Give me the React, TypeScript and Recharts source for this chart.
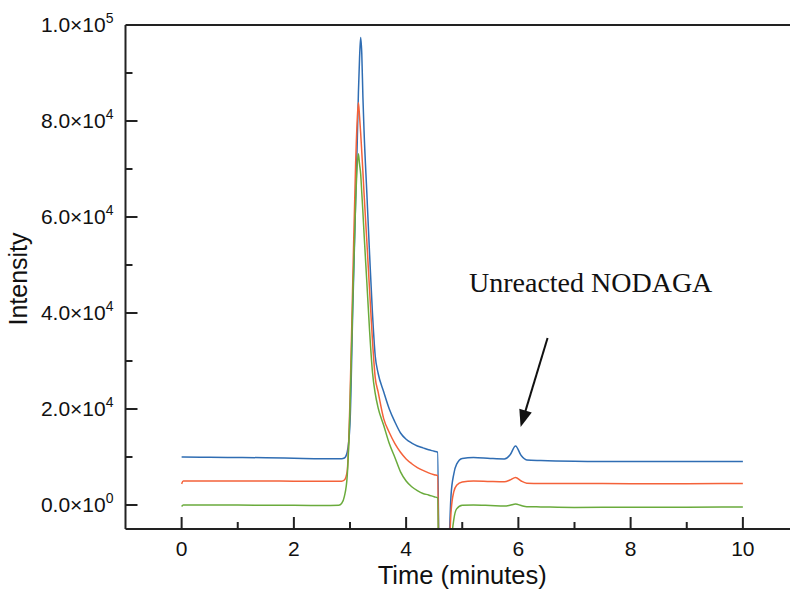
import React from "react";
import { LineChart, Line, XAxis, YAxis, ReferenceLine, ReferenceDot } from "recharts";

// time (minutes)
const time = [
  0, 0.03, 0.5, 1, 1.5, 2, 2.5,
  2.8, 2.85, 2.9, 2.95,
  3.0, 3.05, 3.1, 3.13, 3.15, 3.17, 3.19, 3.21, 3.23, 3.25,
  3.3, 3.35, 3.4, 3.45, 3.5,
  3.6, 3.7, 3.8, 3.9, 4.0,
  4.1, 4.2, 4.3, 4.4, 4.5, 4.56,
  4.6, 4.65, 4.7, 4.75, 4.8, 4.85, 4.9, 5.0,
  5.2, 5.5, 5.75, 5.85, 5.95, 6.05, 6.15, 6.4,
  7, 8, 9, 10,
];

const blueSeries = [
  10000, 10000, 9950, 9900, 9850, 9750, 9650,
  9650, 9650, 9800, 11000,
  17000, 41000, 63000, 76000, 86000, 93000, 97400, 94000, 85000, 78000,
  65000, 52000, 40000, 31000, 27500,
  23600, 20000, 17300, 15000, 13700,
  12900, 12300, 11900, 11500, 11200, 11000,
  -30000, -50000, -40000, -15000, 2000, 6500, 8500, 9700,
  9900, 9700, 9600, 10400, 12300, 10300, 9400, 9250,
  9100, 9050, 9050, 9050,
];

const orangeSeries = [
  4400, 5000, 5000, 5000, 4980, 4970, 4950,
  4950, 4950, 5200, 7000,
  22000, 47000, 71000, 80500, 83800, 81000, 77500, 73500, 69400, 65000,
  54900, 44500, 34300, 26500, 23600,
  18000, 15100, 12800, 11000, 9600,
  8600, 7800, 7200, 6700, 6300, 6100,
  -30000, -50000, -40000, -17000, -1500, 2800, 4100, 4800,
  5000, 4900, 4850, 5200, 5750, 5000, 4550, 4500,
  4500, 4450, 4450, 4500,
];

const greenSeries = [
  -300, 0, 0, 0, -50, -50, -100,
  -50, 300, 1800, 6000,
  20000, 43000, 63000, 71000, 73200, 71000, 69000, 65000, 61000, 56600,
  46400, 36100, 27700, 23200, 20300,
  16600, 12800, 9900, 6900, 5000,
  3800, 3000, 2400, 2100, 1700, 1500,
  -35000, -50000, -45000, -25000, -9000, -3000, -800, -50,
  0, -100, -200, -50, 200, -100, -350, -400,
  -500, -450, -450, -400,
];

const xTicks = [0, 1, 2, 3, 4, 5, 6, 7, 8, 9, 10];
const yTicks = [0, 10000, 20000, 30000, 40000, 50000, 60000, 70000, 80000, 90000, 100000];
const yTickMantissa: Record<number, string> = {
  0: "0.0", 20000: "2.0", 40000: "4.0", 60000: "6.0", 80000: "8.0", 100000: "1.0",
};
const yTickExponent: Record<number, string> = {
  0: "0", 20000: "4", 40000: "4", 60000: "4", 80000: "4", 100000: "5",
};

const annotationText = "Unreacted NODAGA";
const annotationPos = { t: 5.12, v: 44400 };
const arrowStart = { t: 6.52, v: 34800 };
const arrowEnd = { t: 6.04, v: 16250 };

const data = time.map((t, i) => ({
  t,
  blue: blueSeries[i],
  orange: orangeSeries[i],
  green: greenSeries[i],
}));

const AXIS = "#222";
const SANS = "'Liberation Sans', Arial, Helvetica, sans-serif";

const XTick = (props: any) => {
  const { x, y, payload } = props;
  const v = payload.value;
  const major = v % 2 === 0;
  return (
    <g>
      <line x1={x} y1={y} x2={x} y2={y - (major ? 12 : 7)} stroke={AXIS} strokeWidth={2} />
      {major && (
        <text x={x} y={y + 27} textAnchor="middle" fontFamily={SANS} fontSize={21} fill="#111">
          {v}
        </text>
      )}
    </g>
  );
};

const YTick = (props: any) => {
  const { x, y, payload } = props;
  const v = payload.value;
  const major = v % 20000 === 0;
  return (
    <g>
      {v !== 100000 && (
        <line x1={x} y1={y} x2={x + (major ? 12 : 7)} y2={y} stroke={AXIS} strokeWidth={2} />
      )}
      {major && (
        <text x={x - 12} y={y + 7} textAnchor="end" fontFamily={SANS} fontSize={21} fill="#111">
          {yTickMantissa[v]}×10
          <tspan dy={-9} fontSize={14}>{yTickExponent[v]}</tspan>
        </text>
      )}
    </g>
  );
};

const ArrowShape = (props: any) => {
  const { x1, y1, x2, y2 } = props;
  const dx = x2 - x1;
  const dy = y2 - y1;
  const len = Math.sqrt(dx * dx + dy * dy) || 1;
  const ux = dx / len;
  const uy = dy / len;
  const headLen = 17;
  const halfW = 6.5;
  const bx = x2 - ux * headLen;
  const by = y2 - uy * headLen;
  const px = -uy;
  const py = ux;
  return (
    <g>
      <line x1={x1} y1={y1} x2={bx + ux * 2} y2={by + uy * 2} stroke="#111" strokeWidth={2} />
      <polygon
        points={`${x2},${y2} ${bx + px * halfW},${by + py * halfW} ${bx - px * halfW},${by - py * halfW}`}
        fill="#111"
      />
    </g>
  );
};

const LabelShape = (props: any) => {
  const { cx, cy } = props;
  return (
    <text x={cx} y={cy} textAnchor="start" fontFamily="'Liberation Serif', 'Times New Roman', serif" fontSize={28} fill="#111">
      {annotationText}
    </text>
  );
};

export default function App() {
  return (
    <div style={{ position: "absolute", left: 0, top: 0, width: 790, height: 594, overflow: "hidden", background: "#fff" }}>
      <LineChart
        width={800}
        height={594}
        data={data}
        margin={{ top: 25, right: 1, bottom: 5, left: 25.5 }}
      >
        <XAxis
          dataKey="t"
          type="number"
          domain={[-1, 11]}
          ticks={xTicks}
          interval={0}
          allowDataOverflow
          tickSize={0}
          tickMargin={0}
          tickLine={false}
          axisLine={{ stroke: AXIS, strokeWidth: 2 }}
          tick={<XTick />}
          height={60}
          label={{ value: "Time (minutes)", position: "insideBottom", offset: 0, dy: -5, style: { fontFamily: SANS, fontSize: 25.5, fill: "#111" } } as any}
        />
        <YAxis
          type="number"
          domain={[-5000, 100000]}
          ticks={yTicks}
          interval={0}
          allowDataOverflow
          tickSize={0}
          tickMargin={0}
          tickLine={false}
          axisLine={{ stroke: AXIS, strokeWidth: 2 }}
          tick={<YTick />}
          width={100}
          label={{ value: "Intensity", angle: -90, position: "insideLeft", offset: 0, dx: -7, dy: 2, style: { fontFamily: SANS, fontSize: 25, fill: "#111", textAnchor: "middle" } } as any}
        />
        <ReferenceLine y={100000} stroke={AXIS} strokeWidth={2} ifOverflow="visible" />
        <Line type="monotone" dataKey="blue" stroke="#2f6db3" strokeWidth={1.5} dot={false} isAnimationActive={false} />
        <Line type="monotone" dataKey="orange" stroke="#f4623a" strokeWidth={1.5} dot={false} isAnimationActive={false} />
        <Line type="monotone" dataKey="green" stroke="#6aab3c" strokeWidth={1.5} dot={false} isAnimationActive={false} />
        <ReferenceLine
          segment={[{ x: arrowStart.t, y: arrowStart.v }, { x: arrowEnd.t, y: arrowEnd.v }]}
          ifOverflow="visible"
          shape={<ArrowShape />}
        />
        <ReferenceDot x={annotationPos.t} y={annotationPos.v} r={0} ifOverflow="visible" shape={<LabelShape />} />
      </LineChart>
    </div>
  );
}
